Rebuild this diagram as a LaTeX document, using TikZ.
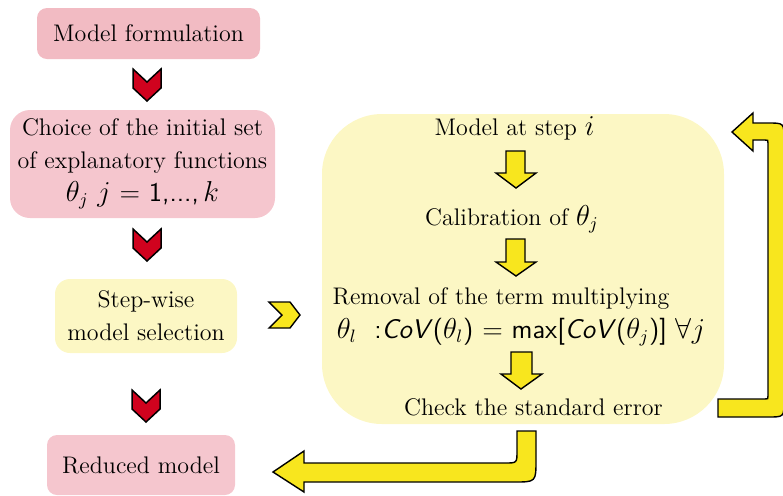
\documentclass[tikz,border=0pt]{standalone}
\usepackage{fontspec}
\definecolor{pinkA}{RGB}{242,187,195}
\definecolor{pinkB}{RGB}{245,198,206}
\definecolor{yelbox}{RGB}{252,247,196}
\definecolor{chevred}{RGB}{208,2,30}
\definecolor{arryel}{RGB}{248,230,30}
\tikzset{
  txt/.style={font=\fontsize{12}{16.5}\selectfont, align=center, inner sep=0pt},
  boxA/.style={txt, fill=pinkA, rounded corners=5pt},
  boxB/.style={txt, fill=pinkB},
  boxY/.style={txt, fill=yelbox},
  chev/.style={fill=chevred, draw=black, line width=0.75pt, line join=miter},
  yarr/.style={fill=arryel, draw=black, line width=0.7pt, line join=miter},
}
\newcommand{\sfit}[1]{\textsf{\itshape #1}}
\begin{document}
\begin{tikzpicture}[x=0.5pt,y=-0.5pt]
\useasboundingbox (0,0) rectangle (783,495);
% left column boxes
\node[boxA, minimum width=111.5pt, minimum height=25.5pt] (form) at (148.5,33.5) {Model formulation};
\node[boxB, rounded corners=10pt, minimum width=132.5pt, minimum height=54pt] (choice) at (142.5,164)
  {Choice of the initial set\\ of explanatory functions\\ \fontsize{13.5}{16}\selectfont$\theta_j\ j$ \textsf{= 1,...,}\,$k$};
\node[boxY, rounded corners=7.5pt, minimum width=91pt, minimum height=37pt] (step) at (146,316)
  {Step-wise\\ model selection};
\node[boxB, rounded corners=5pt, minimum width=94pt, minimum height=30pt] (red) at (141,465) {Reduced model};
% big loop box
\node[fill=yelbox, rounded corners=30pt, minimum width=201pt, minimum height=155pt, inner sep=0pt] (loop) at (523,269) {};
\node[txt, anchor=base] (s1) at (514.5,135) {Model at step \fontsize{13.5}{16}\selectfont$i$};
\node[txt, anchor=base] (s2) at (512,225) {Calibration of \fontsize{13.5}{16}\selectfont$\theta_j$};
\node[txt, anchor=base] (s3) at (501,304) {Removal of the term multiplying};
\node[txt, anchor=base, font=\fontsize{13.5}{16}\selectfont] (s4) at (521,338)
  {$\theta_l$\ \ \textsf{:}\sfit{CoV}\textsf{(}$\theta_l$\textsf{) = max[}\sfit{CoV}\textsf{(}$\theta_j$\textsf{)]} $\forall j$};
\node[txt, anchor=base] (s5) at (533.5,415) {Check the standard error};
% red chevrons
\draw[chev] (133,69) -- (147,82) -- (161,69) -- (161,88) -- (147,101) -- (133,88) -- cycle;
\draw[chev] (133,229) -- (147,242) -- (161,229) -- (161,248) -- (147,261) -- (133,248) -- cycle;
\draw[chev] (132,390) -- (146,403) -- (160,390) -- (160,409) -- (146,422) -- (132,409) -- cycle;
% yellow right chevron
\draw[yarr] (269,302) -- (290,302) -- (300,315) -- (290,328) -- (269,328) -- (282,315) -- cycle;
% yellow down arrows
\draw[yarr] (506,151) -- (525,151) -- (525,173) -- (536,173) -- (516,188) -- (496,173) -- (506,173) -- cycle;
\draw[yarr] (506,239) -- (525,239) -- (525,262) -- (536,262) -- (516,276) -- (496,262) -- (506,262) -- cycle;
\draw[yarr] (511,352) -- (532,352) -- (532,374) -- (542,374) -- (521,389) -- (501,374) -- (511,374) -- cycle;
% loop-back arrow on the right
\draw[yarr] (718,399) -- (765,399) .. controls (768,399) .. (768,396) -- (768,143) .. controls (768,140) .. (765,140)
  -- (753,140) -- (753,151) -- (732,132) -- (753,113) -- (753,123) -- (768,123)
  .. controls (784,123) .. (784,139) -- (784,401) .. controls (784,417) .. (768,417) -- (718,417) -- cycle;
% exit arrow at the bottom
\draw[yarr] (517,431) -- (517,451) .. controls (517,463) .. (505,463) -- (304,463) -- (304,451) -- (273,472)
  -- (304,492) -- (304,482) -- (514,482) .. controls (536,482) .. (536,460) -- (536,431) -- cycle;
\end{tikzpicture}
\end{document}
